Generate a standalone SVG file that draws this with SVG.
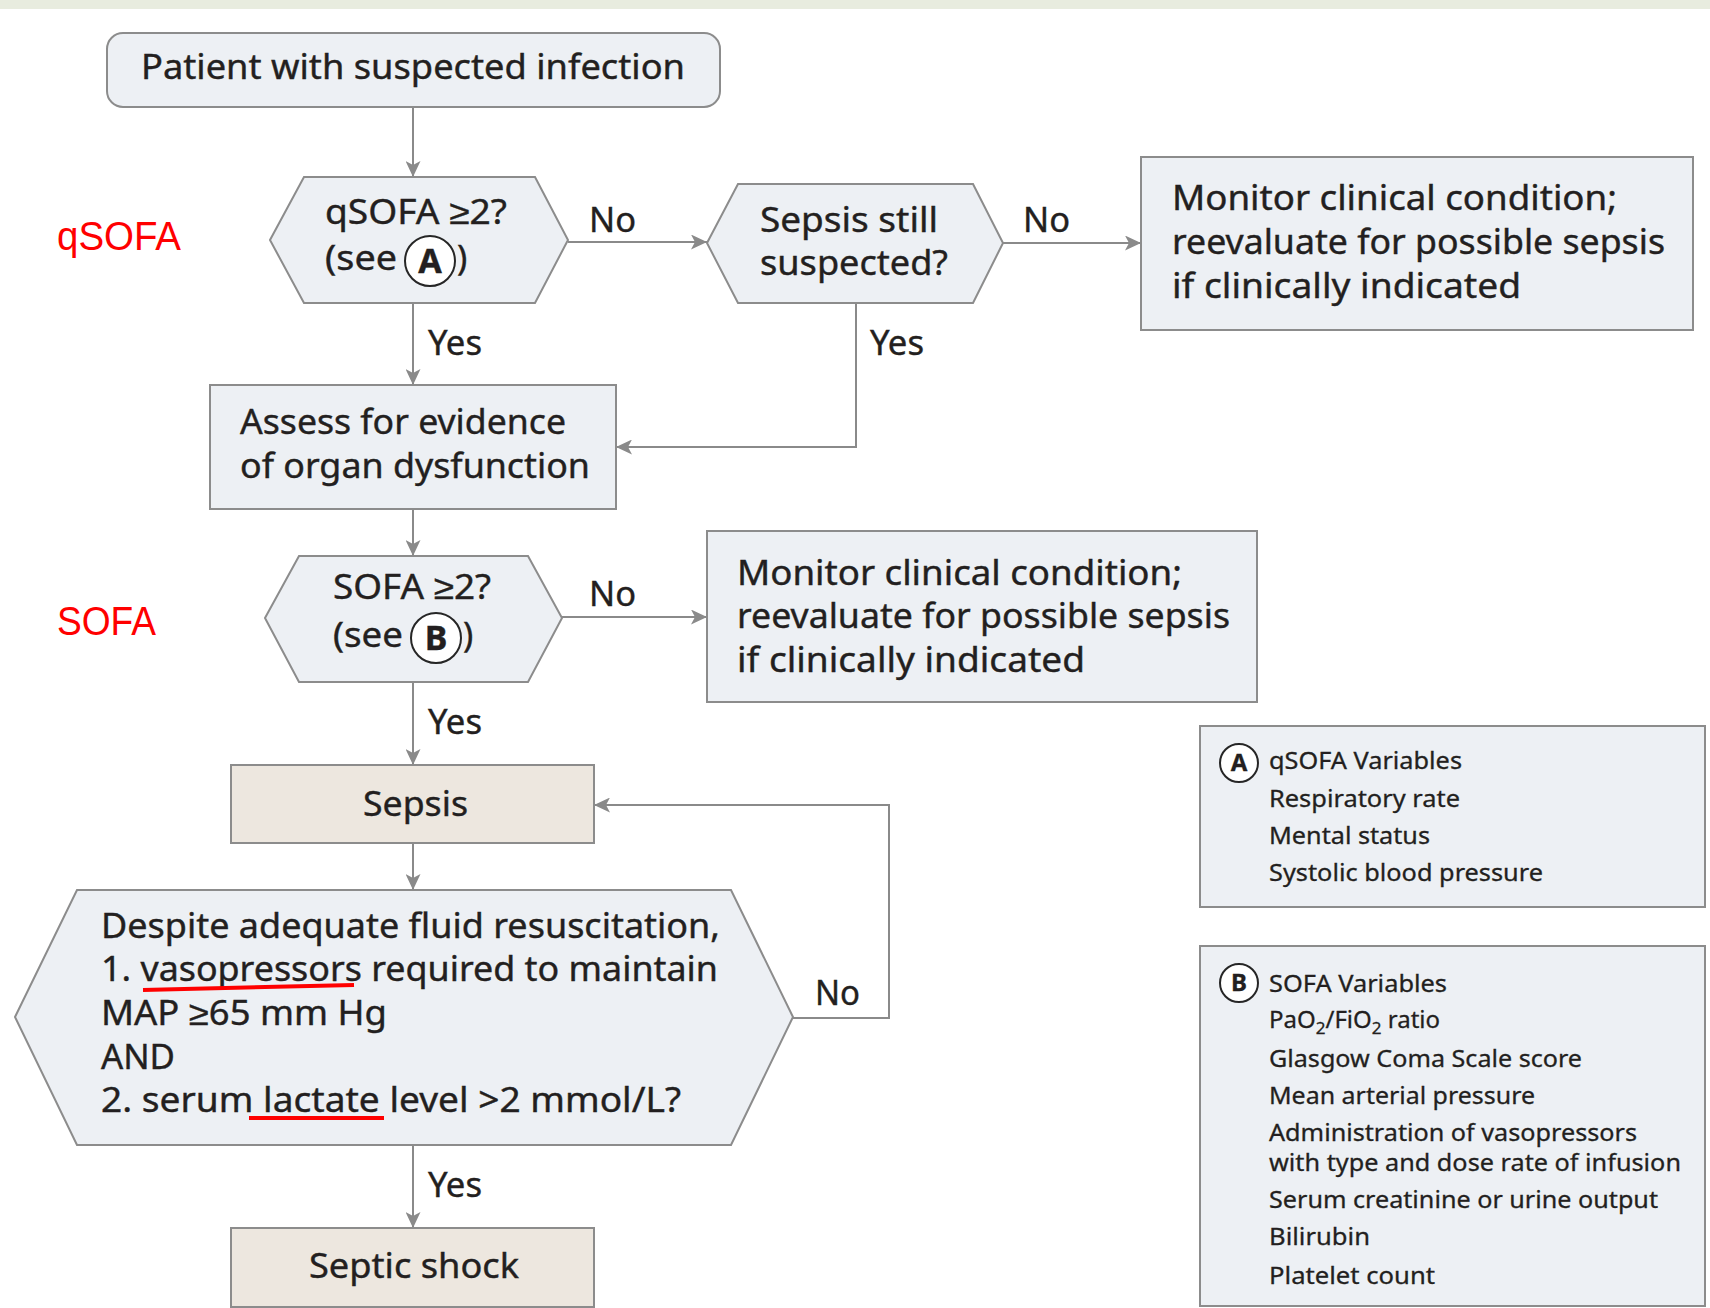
<svg xmlns="http://www.w3.org/2000/svg" width="1710" height="1308" viewBox="0 0 1710 1308">
<style>
.node{fill:#edf0f4;stroke:#8c8c8c;stroke-width:2}
.tan{fill:#ede7df;stroke:#8c8c8c;stroke-width:2}
.t{font-family:"Noto Sans","Liberation Sans",sans-serif;font-size:34px;fill:#231f20;stroke:#231f20;stroke-width:0.4}
.lg{font-family:"Noto Sans","Liberation Sans",sans-serif;font-size:24px;fill:#231f20;stroke:#231f20;stroke-width:0.3}
.red{font-family:"Liberation Sans","Noto Sans",sans-serif;font-size:40px;fill:#ff0000}
.c{fill:#ffffff;stroke:#262626;stroke-width:2}
.conn{fill:none;stroke:#8a8a8a;stroke-width:2}
.ul{stroke:#ff0000;stroke-width:4;fill:none}
</style>
<defs>
<marker id="arr" markerUnits="userSpaceOnUse" markerWidth="17" markerHeight="15" refX="16" refY="7.5" orient="auto">
<path d="M0,0 L16,7.5 L0,15 L4,7.5 z" fill="#8a8a8a"/>
</marker>
</defs>
<rect x="0" y="0" width="1710" height="1308" fill="#ffffff"/>
<rect x="0" y="0" width="1710" height="9" fill="#e8ecdf"/>

<g id="connectors">
<path class="conn" d="M413,107 L413,177" marker-end="url(#arr)"/>
<path class="conn" d="M568,242 L707,242" marker-end="url(#arr)"/>
<path class="conn" d="M1003,243 L1141,243" marker-end="url(#arr)"/>
<path class="conn" d="M413,303 L413,385" marker-end="url(#arr)"/>
<path class="conn" d="M856,303 L856,447 L616,447" marker-end="url(#arr)"/>
<path class="conn" d="M413,509 L413,556" marker-end="url(#arr)"/>
<path class="conn" d="M562,617 L707,617" marker-end="url(#arr)"/>
<path class="conn" d="M413,682 L413,765" marker-end="url(#arr)"/>
<path class="conn" d="M413,843 L413,890" marker-end="url(#arr)"/>
<path class="conn" d="M793,1018 L889,1018 L889,805 L594,805" marker-end="url(#arr)"/>
<path class="conn" d="M413,1145 L413,1228" marker-end="url(#arr)"/>
<text class="t" x="589" y="232" textLength="47" lengthAdjust="spacingAndGlyphs">No</text>
<text class="t" x="1023" y="232" textLength="47" lengthAdjust="spacingAndGlyphs">No</text>
<text class="t" x="428" y="355" textLength="54" lengthAdjust="spacingAndGlyphs">Yes</text>
<text class="t" x="870" y="355" textLength="54" lengthAdjust="spacingAndGlyphs">Yes</text>
<text class="t" x="589" y="606" textLength="47" lengthAdjust="spacingAndGlyphs">No</text>
<text class="t" x="428" y="734" textLength="54" lengthAdjust="spacingAndGlyphs">Yes</text>
<text class="t" x="815" y="1005" textLength="45" lengthAdjust="spacingAndGlyphs">No</text>
<text class="t" x="428" y="1197" textLength="54" lengthAdjust="spacingAndGlyphs">Yes</text>
</g>

<g id="label-qsofa"><text class="red" x="57" y="250" textLength="124" lengthAdjust="spacingAndGlyphs">qSOFA</text></g>
<g id="label-sofa"><text class="red" x="57" y="635" textLength="99" lengthAdjust="spacingAndGlyphs">SOFA</text></g>

<g id="n-patient">
<rect class="node" x="107" y="33" width="613" height="74" rx="16"/>
<text class="t" x="141" y="79" textLength="544" lengthAdjust="spacingAndGlyphs">Patient with suspected infection</text>
</g>

<g id="n-qsofa">
<polygon class="node" points="270,240 304,177 535,177 568,240 535,303 304,303"/>
<text class="t" x="325" y="224" textLength="182" lengthAdjust="spacingAndGlyphs">qSOFA ≥2?</text>
<text class="t" x="325" y="270" textLength="72" lengthAdjust="spacingAndGlyphs">(see</text>
<circle class="c" cx="430" cy="261" r="25"/>
<text class="t" x="430" y="273" text-anchor="middle" font-weight="bold" font-size="30">A</text>
<text class="t" x="457" y="270">)</text>
</g>

<g id="n-still">
<polygon class="node" points="707,243 738,184 973,184 1003,243 973,303 738,303"/>
<text class="t" x="760" y="232" textLength="178" lengthAdjust="spacingAndGlyphs">Sepsis still</text>
<text class="t" x="760" y="275" textLength="188" lengthAdjust="spacingAndGlyphs">suspected?</text>
</g>

<g id="n-monitor1">
<rect class="node" x="1141" y="157" width="552" height="173"/>
<text class="t" x="1172" y="210" textLength="445" lengthAdjust="spacingAndGlyphs">Monitor clinical condition;</text>
<text class="t" x="1172" y="254" textLength="493" lengthAdjust="spacingAndGlyphs">reevaluate for possible sepsis</text>
<text class="t" x="1172" y="298" textLength="349" lengthAdjust="spacingAndGlyphs">if clinically indicated</text>
</g>

<g id="n-assess">
<rect class="node" x="210" y="385" width="406" height="124"/>
<text class="t" x="240" y="434" textLength="326" lengthAdjust="spacingAndGlyphs">Assess for evidence</text>
<text class="t" x="240" y="478" textLength="350" lengthAdjust="spacingAndGlyphs">of organ dysfunction</text>
</g>

<g id="n-sofa">
<polygon class="node" points="265,618 299,556 528,556 562,618 528,682 299,682"/>
<text class="t" x="333" y="599" textLength="158" lengthAdjust="spacingAndGlyphs">SOFA ≥2?</text>
<text class="t" x="333" y="647" textLength="70" lengthAdjust="spacingAndGlyphs">(see</text>
<circle class="c" cx="436" cy="638" r="25"/>
<text class="t" x="436" y="650" text-anchor="middle" font-weight="bold" font-size="30">B</text>
<text class="t" x="463" y="647">)</text>
</g>

<g id="n-monitor2">
<rect class="node" x="707" y="531" width="550" height="171"/>
<text class="t" x="737" y="585" textLength="445" lengthAdjust="spacingAndGlyphs">Monitor clinical condition;</text>
<text class="t" x="737" y="628" textLength="493" lengthAdjust="spacingAndGlyphs">reevaluate for possible sepsis</text>
<text class="t" x="737" y="672" textLength="348" lengthAdjust="spacingAndGlyphs">if clinically indicated</text>
</g>

<g id="n-sepsis">
<rect class="tan" x="231" y="765" width="363" height="78"/>
<text class="t" x="363" y="816" textLength="105" lengthAdjust="spacingAndGlyphs">Sepsis</text>
</g>

<g id="n-despite">
<polygon class="node" points="15,1017 77,890 731,890 793,1017 731,1145 77,1145"/>
<text class="t" x="101" y="938" textLength="619" lengthAdjust="spacingAndGlyphs">Despite adequate fluid resuscitation,</text>
<text class="t" x="101" y="981" textLength="617" lengthAdjust="spacingAndGlyphs">1. vasopressors required to maintain</text>
<text class="t" x="101" y="1025" textLength="286" lengthAdjust="spacingAndGlyphs">MAP ≥65 mm Hg</text>
<text class="t" x="101" y="1069" textLength="74" lengthAdjust="spacingAndGlyphs">AND</text>
<text class="t" x="101" y="1112" textLength="580" lengthAdjust="spacingAndGlyphs">2. serum lactate level &gt;2 mmol/L?</text>
<path class="ul" d="M143,990 L354,985"/>
<path class="ul" d="M249,1118 L384,1118"/>
</g>

<g id="n-shock">
<rect class="tan" x="231" y="1228" width="363" height="79"/>
<text class="t" x="309" y="1278" textLength="210" lengthAdjust="spacingAndGlyphs">Septic shock</text>
</g>

<g id="legend-a">
<rect class="node" x="1200" y="726" width="505" height="181"/>
<circle cx="1239" cy="763" r="19" fill="#ffffff" stroke="#262626" stroke-width="2"/>
<text class="lg" x="1239" y="771" text-anchor="middle" font-weight="bold" font-size="22">A</text>
<text class="lg" x="1269" y="769" textLength="193" lengthAdjust="spacingAndGlyphs">qSOFA Variables</text>
<text class="lg" x="1269" y="807" textLength="191" lengthAdjust="spacingAndGlyphs">Respiratory rate</text>
<text class="lg" x="1269" y="844" textLength="161" lengthAdjust="spacingAndGlyphs">Mental status</text>
<text class="lg" x="1269" y="881" textLength="274" lengthAdjust="spacingAndGlyphs">Systolic blood pressure</text>
</g>

<g id="legend-b">
<rect class="node" x="1200" y="946" width="505" height="360"/>
<circle cx="1239" cy="983" r="19" fill="#ffffff" stroke="#262626" stroke-width="2"/>
<text class="lg" x="1239" y="991" text-anchor="middle" font-weight="bold" font-size="22">B</text>
<text class="lg" x="1269" y="992" textLength="178" lengthAdjust="spacingAndGlyphs">SOFA Variables</text>
<text class="lg" x="1269" y="1028" font-size="26">PaO<tspan font-size="17" dy="6">2</tspan><tspan dy="-6">/FiO</tspan><tspan font-size="17" dy="6">2</tspan><tspan dy="-6"> ratio</tspan></text>
<text class="lg" x="1269" y="1067" textLength="313" lengthAdjust="spacingAndGlyphs">Glasgow Coma Scale score</text>
<text class="lg" x="1269" y="1104" textLength="266" lengthAdjust="spacingAndGlyphs">Mean arterial pressure</text>
<text class="lg" x="1269" y="1141" textLength="368" lengthAdjust="spacingAndGlyphs">Administration of vasopressors</text>
<text class="lg" x="1269" y="1171" textLength="412" lengthAdjust="spacingAndGlyphs">with type and dose rate of infusion</text>
<text class="lg" x="1269" y="1208" textLength="389" lengthAdjust="spacingAndGlyphs">Serum creatinine or urine output</text>
<text class="lg" x="1269" y="1245" textLength="101" lengthAdjust="spacingAndGlyphs">Bilirubin</text>
<text class="lg" x="1269" y="1284" textLength="166" lengthAdjust="spacingAndGlyphs">Platelet count</text>
</g>
</svg>
